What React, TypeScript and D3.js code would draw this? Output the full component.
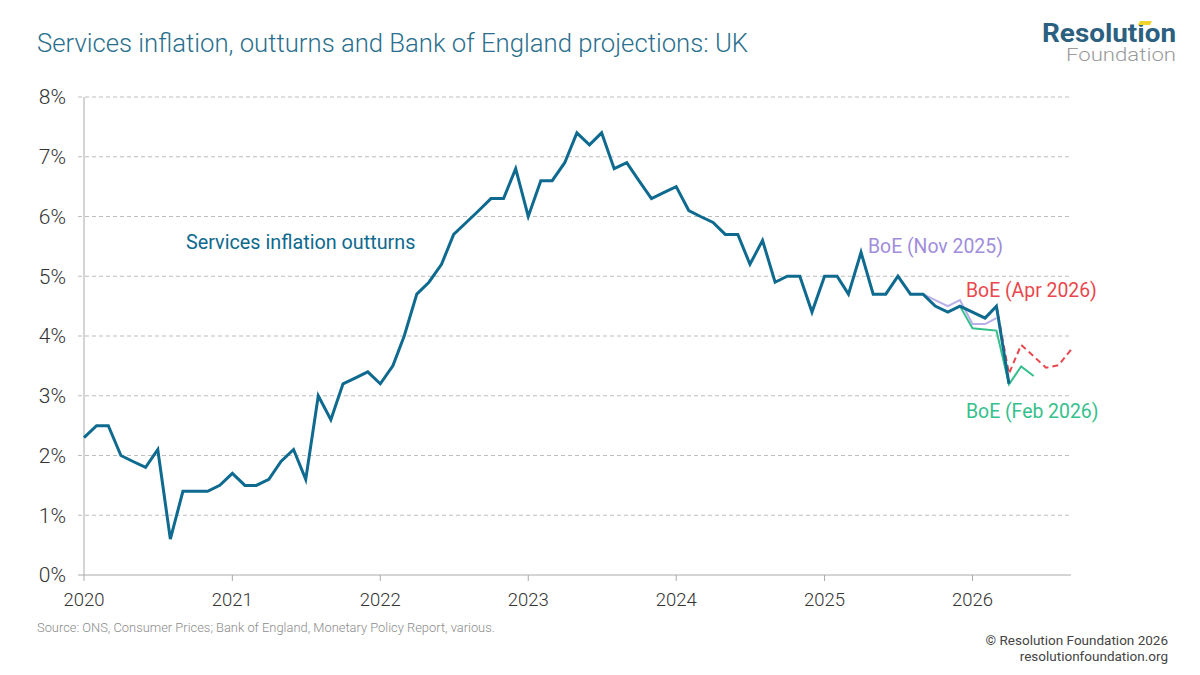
import * as d3 from "d3";

// Monthly services CPI, annual rate (%), Jan 2020 onwards
const OUTTURN_START = "2020-01";
const outturns = [
  2.3, 2.5, 2.5, 2.0, 1.9, 1.8, 2.1, 0.6, 1.4, 1.4, 1.4, 1.5,
  1.7, 1.5, 1.5, 1.6, 1.9, 2.1, 1.6, 3.0, 2.6, 3.2, 3.3, 3.4,
  3.2, 3.5, 4.0, 4.7, 4.9, 5.2, 5.7, 5.9, 6.1, 6.3, 6.3, 6.8,
  6.0, 6.6, 6.6, 6.9, 7.4, 7.2, 7.4, 6.8, 6.9, 6.6, 6.3, 6.4,
  6.5, 6.1, 6.0, 5.9, 5.7, 5.7, 5.2, 5.6, 4.9, 5.0, 5.0, 4.4,
  5.0, 5.0, 4.7, 5.4, 4.7, 4.7, 5.0, 4.7, 4.7, 4.5, 4.4, 4.5,
  4.4, 4.3, 4.5, 3.2,
];

// BoE projections, each starting from its jump-off month
const NOV25_START = "2025-09";
const boeNov2025 = [4.7, 4.6, 4.5, 4.6, 4.2, 4.2, 4.3];
const FEB26_START = "2025-12";
const boeFeb2026 = [4.5, 4.13, 4.11, 4.09, 3.19, 3.49, 3.33];
const APR26_START = "2026-03";
const boeApr2026 = [4.5, 3.37, 3.85, 3.66, 3.47, 3.51, 3.77];

const yTicks = [0, 1, 2, 3, 4, 5, 6, 7, 8];
const yearTicks = [2020, 2021, 2022, 2023, 2024, 2025, 2026];

const FONT = "Roboto, 'Noto Sans', sans-serif";
const C_OUT = "#0e6a8e";
const C_NOV = "#b9aee8";
const C_NOV_TXT = "#a08ddb";
const C_FEB = "#34c08c";
const C_APR = "#e8474d";

type Pt = { date: Date; value: number };

function toPoints(start: string, values: number[]): Pt[] {
  const [y, m] = start.split("-").map(Number);
  return values.map((v, i) => ({ date: new Date(y, m - 1 + i, 1), value: v }));
}

export default function App() {
  const width = 1200;
  const height = 675;

  const x = d3
    .scaleTime()
    .domain([new Date(2020, 0, 1), new Date(2026, 8, 1)])
    .range([84, 1071]);
  const y = d3.scaleLinear().domain([0, 8]).range([575, 97]);

  const line = d3
    .line<Pt>()
    .x((d) => x(d.date))
    .y((d) => y(d.value));

  const outPts = toPoints(OUTTURN_START, outturns);
  const novPts = toPoints(NOV25_START, boeNov2025);
  const febPts = toPoints(FEB26_START, boeFeb2026);
  const aprPts = toPoints(APR26_START, boeApr2026);

  return (
    <svg
      width={width}
      height={height}
      style={{ position: "absolute", left: 0, top: 0, background: "#fff" }}
      fontFamily={FONT}
    >
      {/* title */}
      <text
        x={37}
        y={52}
        fontSize={26}
        fontWeight={300}
        fill="#2a6f8d"
        textLength={711}
        lengthAdjust="spacingAndGlyphs"
      >
        Services inflation, outturns and Bank of England projections: UK
      </text>

      {/* logo */}
      <text
        x={1176}
        y={42}
        textAnchor="end"
        fontSize={25}
        fontWeight={700}
        fill="#2b6080"
        textLength={134}
        lengthAdjust="spacingAndGlyphs"
      >
        Resolution
      </text>
      <polygon points="1140,21 1152,21 1150,25 1138,25" fill="#f2d32c" />
      <text
        x={1176}
        y={61}
        textAnchor="end"
        fontSize={19}
        fontWeight={300}
        fill="#9a9a9a"
        textLength={110}
        lengthAdjust="spacingAndGlyphs"
      >
        Foundation
      </text>

      {/* gridlines + y labels */}
      {yTicks.map((t) => (
        <g key={t}>
          {t > 0 && (
            <line
              x1={78}
              x2={1071}
              y1={y(t)}
              y2={y(t)}
              stroke="#bdbdbd"
              strokeDasharray="4,3"
            />
          )}
          <text
            x={66}
            y={y(t)}
            dy="0.35em"
            textAnchor="end"
            fontSize={21}
            fontWeight={300}
            fill="#333"
          >
            {t}%
          </text>
        </g>
      ))}

      {/* axes */}
      <line x1={84} x2={84} y1={97} y2={575} stroke="#aaa" />
      <line x1={78} x2={1071} y1={575} y2={575} stroke="#aaa" />
      {yearTicks.map((yr) => {
        const px = x(new Date(yr, 0, 1));
        return (
          <g key={yr}>
            <line x1={px} x2={px} y1={575} y2={581} stroke="#aaa" />
            <text
              x={px}
              y={606}
              textAnchor="middle"
              fontSize={18.5}
              fontWeight={300}
              fill="#333"
            >
              {yr}
            </text>
          </g>
        );
      })}

      {/* projections */}
      <path d={line(novPts) || ""} fill="none" stroke={C_NOV} strokeWidth={2} />
      <path d={line(febPts) || ""} fill="none" stroke={C_FEB} strokeWidth={2} />
      <path
        d={line(aprPts) || ""}
        fill="none"
        stroke={C_APR}
        strokeWidth={2}
        strokeDasharray="6,4"
      />
      {/* outturns */}
      <path
        d={line(outPts) || ""}
        fill="none"
        stroke={C_OUT}
        strokeWidth={3}
        strokeLinejoin="miter"
      />

      {/* series labels */}
      <text x={186} y={249} fontSize={19.8} fill={C_OUT}>
        Services inflation outturns
      </text>
      <text x={868} y={253} fontSize={19.4} fill={C_NOV_TXT}>
        BoE (Nov 2025)
      </text>
      <text x={966} y={297} fontSize={19.4} fill={C_APR}>
        BoE (Apr 2026)
      </text>
      <text x={966} y={418} fontSize={19.4} fill={C_FEB}>
        BoE (Feb 2026)
      </text>

      {/* footer */}
      <text x={37} y={632} fontSize={12.9} fontWeight={300} fill="#8c8c8c">
        Source: ONS, Consumer Prices; Bank of England, Monetary Policy Report, various.
      </text>
      <text x={1168} y={645} textAnchor="end" fontSize={13.5} fill="#444">
        © Resolution Foundation 2026
      </text>
      <text x={1168} y={661} textAnchor="end" fontSize={13.5} fill="#444">
        resolutionfoundation.org
      </text>
    </svg>
  );
}
